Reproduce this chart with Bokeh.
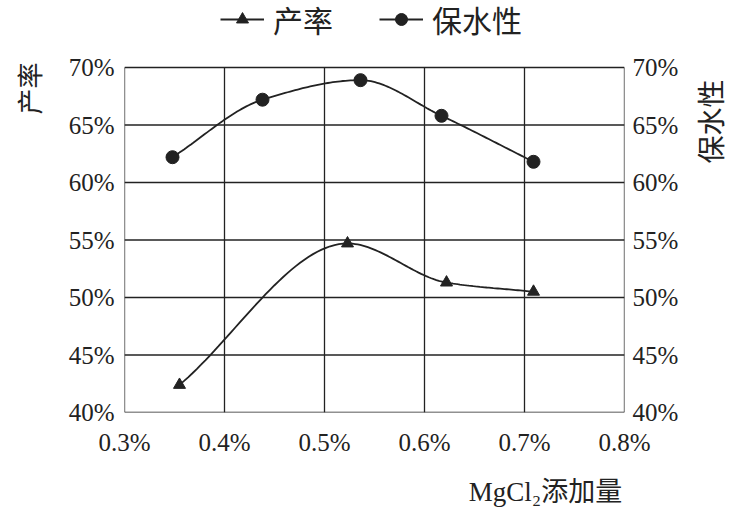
import numpy as np
from bokeh.plotting import figure
from bokeh.models import (Range1d, LinearAxis, FixedTicker, PrintfTickFormatter,
                          Legend, LegendItem, Label)
from bokeh.embed import file_html
from bokeh.resources import INLINE

# ---- data ----
x_ticks = [0.3, 0.4, 0.5, 0.6, 0.7, 0.8]
y_ticks = [40, 45, 50, 55, 60, 65, 70]
yield_x = [0.355, 0.523, 0.622, 0.709]
yield_y = [42.4, 54.7, 51.3, 50.5]
water_x = [0.348, 0.438, 0.536, 0.617, 0.709]
water_y = [62.2, 67.2, 68.9, 65.8, 61.8]
yield_name = "产率"
water_name = "保水性"
x_title = "MgCl₂添加量"


def smooth(xs, ys, n=40):
    """Monotone (Fritsch-Carlson) Hermite rendering of a smoothed line through the points."""
    x = np.asarray(xs, float)
    y = np.asarray(ys, float)
    h = np.diff(x)
    dl = np.diff(y) / h
    d = np.zeros_like(y)
    d[0], d[-1] = dl[0], dl[-1]
    for k in range(1, len(x) - 1):
        if dl[k - 1] * dl[k] > 0:
            w1 = 2 * h[k] + h[k - 1]
            w2 = h[k] + 2 * h[k - 1]
            d[k] = (w1 + w2) / (w1 / dl[k - 1] + w2 / dl[k])
    t = np.linspace(0, 1, n)
    h00 = 2 * t ** 3 - 3 * t ** 2 + 1
    h10 = t ** 3 - 2 * t ** 2 + t
    h01 = -2 * t ** 3 + 3 * t ** 2
    h11 = t ** 3 - t ** 2
    ox, oy = [], []
    for k in range(len(x) - 1):
        sx = x[k] + t * h[k]
        sy = h00 * y[k] + h10 * h[k] * d[k] + h01 * y[k + 1] + h11 * h[k] * d[k + 1]
        s = 0 if k == 0 else 1
        ox.extend(sx[s:])
        oy.extend(sy[s:])
    return ox, oy


INK = "#222222"
SERIF = "Liberation Serif"
CJK = "Liberation Serif, Noto Sans CJK SC"

W, H = 739, 512
L, R, T, B = 124, 624, 67, 412          # plot box in page pixels
y_lo, y_hi = y_ticks[0], y_ticks[-1]
x_lo, x_hi = x_ticks[0], x_ticks[-1]
# frame reaches the top of the page so that the legend can sit above the plot box
y_top = y_hi + (y_hi - y_lo) * T / (B - T)

p = figure(width=W, height=H, x_range=Range1d(x_lo, x_hi), y_range=Range1d(y_lo, y_top),
           output_backend="svg", toolbar_location=None,
           min_border_left=L, min_border_right=W - R, min_border_top=0,
           min_border_bottom=H - B)
p.extra_y_ranges = {"r": Range1d(y_lo, y_top)}
p.background_fill_color = "white"
p.border_fill_color = "white"
p.outline_line_color = None
p.xgrid.visible = False
p.ygrid.visible = False

# axes
p.xaxis.ticker = FixedTicker(ticks=x_ticks)
p.yaxis.ticker = FixedTicker(ticks=y_ticks)
p.xaxis.formatter = PrintfTickFormatter(format="%.1f%%")
p.yaxis.formatter = PrintfTickFormatter(format="%d%%")
raxis = LinearAxis(y_range_name="r", ticker=FixedTicker(ticks=y_ticks),
                   formatter=PrintfTickFormatter(format="%d%%"))
p.add_layout(raxis, "right")
for ax in [p.xaxis[0], p.yaxis[0], raxis]:
    ax.axis_line_color = None
    ax.major_tick_line_color = None
    ax.minor_tick_line_color = None
    ax.major_label_text_font = SERIF
    ax.major_label_text_font_size = "25px"
    ax.major_label_text_color = INK
p.xaxis.major_label_standoff = 10
p.yaxis[0].major_label_standoff = 4
raxis.major_label_standoff = 2

# grid and plot box (drawn at the tick values)
p.segment(x0=[x_lo] * len(y_ticks), x1=[x_hi] * len(y_ticks), y0=y_ticks, y1=y_ticks,
          line_color=INK, line_width=1.3)
p.segment(x0=x_ticks, x1=x_ticks, y0=[y_lo] * len(x_ticks), y1=[y_hi] * len(x_ticks),
          line_color=INK, line_width=1.3)

# series
yx, yy = smooth(yield_x, yield_y)
wx, wy = smooth(water_x, water_y)
l1 = p.line(yx, yy, line_color=INK, line_width=1.8)
s1 = p.scatter(yield_x, yield_y, marker="triangle", size=12, fill_color=INK, line_color=INK)
l2 = p.line(wx, wy, line_color=INK, line_width=1.8, y_range_name="r")
s2 = p.scatter(water_x, water_y, marker="circle", size=13, fill_color=INK, line_color=INK,
               y_range_name="r")

legend = Legend(items=[LegendItem(label=yield_name, renderers=[l1, s1]),
                       LegendItem(label=water_name, renderers=[l2, s2])],
                orientation="horizontal", location=(96, B - 41),
                glyph_width=44, glyph_height=30, label_height=30,
                label_text_font=CJK, label_text_font_size="30px", label_text_color=INK,
                label_standoff=9, spacing=46, padding=0, margin=0,
                border_line_color=None, background_fill_alpha=0)
p.add_layout(legend)

p.add_layout(Label(x=-5, y=B - 88, x_units="screen", y_units="screen", text=yield_name,
                   angle=np.pi / 2, text_align="center", text_baseline="middle",
                   text_font=CJK, text_font_size="26px", text_color=INK), "left")
p.add_layout(Label(x=31, y=B - 121, x_units="screen", y_units="screen", text=water_name,
                   angle=np.pi / 2, text_align="center", text_baseline="middle",
                   text_font=CJK, text_font_size="28px", text_color=INK), "right")
p.add_layout(Label(x=421, y=-3, x_units="screen", y_units="screen", text=x_title,
                   text_align="center", text_baseline="middle",
                   text_font=CJK, text_font_size="27px", text_color=INK), "below")

open("out.html", "w").write(file_html(p, INLINE))
